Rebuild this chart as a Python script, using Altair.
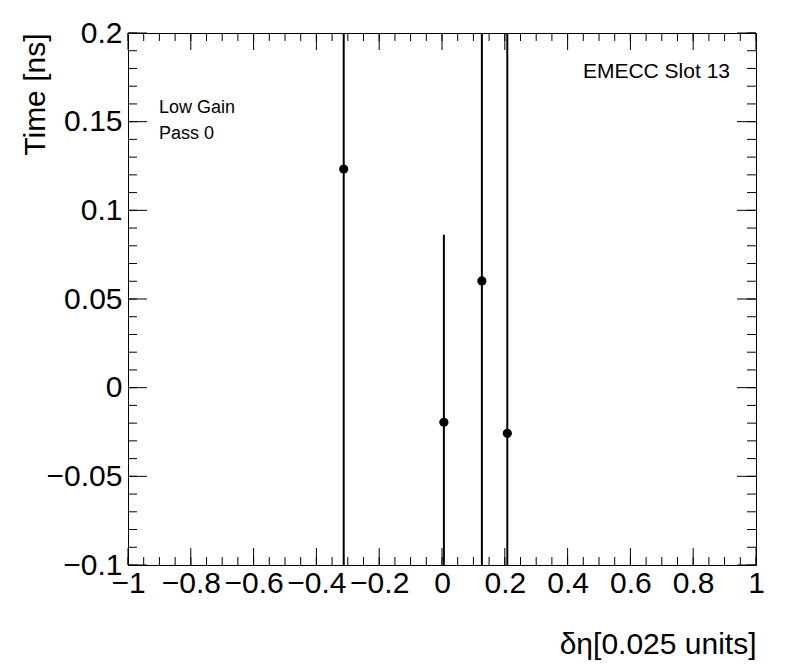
import altair as alt
import pandas as pd

# data
eta = [-0.313, 0.006, 0.127, 0.208]
time_ns = [0.1233, -0.0195, 0.0602, -0.0257]
time_err = [0.40, 0.1057, 0.40, 0.40]

x_major = [round(-1 + 0.2 * i, 4) for i in range(11)]
x_minor = [round(-1 + 0.05 * i, 4) for i in range(41)]
y_major = [round(-0.1 + 0.05 * i, 4) for i in range(7)]
y_minor = [round(-0.1 + 0.01 * i, 4) for i in range(31)]

W, H = 628, 532
FONT = "Liberation Sans"
FS = 30

df = pd.DataFrame({"x": eta, "y": time_ns, "e": time_err})
df["lo"] = df["y"] - df["e"]
df["hi"] = df["y"] + df["e"]

xs = alt.Scale(domain=[-1, 1], nice=False, zero=False)
ys = alt.Scale(domain=[-0.1, 0.2], nice=False, zero=False)

base = alt.Chart(df)

bars = base.mark_rule(color="black", strokeWidth=2, clip=True).encode(
    x=alt.X("x:Q", scale=xs, axis=alt.Axis(
        values=x_major, format="~g", ticks=False, domain=False, grid=False,
        labelFont=FONT, labelFontSize=FS, labelColor="black", labelPadding=3,
        labelFlush=False, labelExpr="replace(datum.label, '-', '\u2212')",
        title="\u03b4\u03b7[0.025 units]", titleFont=FONT, titleFontSize=FS,
        titleFontWeight="normal", titleColor="black", titleAnchor="end",
        titleAlign="right", titleX=W, titleY=88, titleBaseline="alphabetic")),
    y=alt.Y("lo:Q", scale=ys, axis=alt.Axis(
        values=y_major, format="~g", ticks=False, domain=False, grid=False,
        labelFont=FONT, labelFontSize=FS, labelColor="black", labelPadding=6,
        labelFlush=False, labelExpr="replace(datum.label, '-', '\u2212')",
        title="Time [ns]", titleFont=FONT, titleFontSize=FS,
        titleFontWeight="normal", titleColor="black", titleAngle=-90,
        titleAlign="right", titleBaseline="alphabetic", titleX=-84, titleY=0)),
    y2="hi:Q",
)

points = base.mark_point(filled=True, color="black", opacity=1, size=85, shape="circle").encode(
    x=alt.X("x:Q", scale=xs), y=alt.Y("y:Q", scale=ys))


def xticks(vals, length):
    d = pd.DataFrame({"v": vals})
    bot = alt.Chart(d).mark_rule(color="black", strokeWidth=1).encode(
        x=alt.X("v:Q", scale=xs), y=alt.value(H), y2=alt.value(H - length))
    top = alt.Chart(d).mark_rule(color="black", strokeWidth=1).encode(
        x=alt.X("v:Q", scale=xs), y=alt.value(0), y2=alt.value(length))
    return [bot, top]


def yticks(vals, length):
    d = pd.DataFrame({"v": vals})
    left = alt.Chart(d).mark_rule(color="black", strokeWidth=1).encode(
        y=alt.Y("v:Q", scale=ys), x=alt.value(0), x2=alt.value(length))
    right = alt.Chart(d).mark_rule(color="black", strokeWidth=1).encode(
        y=alt.Y("v:Q", scale=ys), x=alt.value(W), x2=alt.value(W - length))
    return [left, right]


ticks = xticks(x_major, 17) + xticks(x_minor, 8) + yticks(y_major, 19) + yticks(y_minor, 9)

t1 = alt.Chart(pd.DataFrame({"t": ["EMECC Slot 13"]})).mark_text(
    font=FONT, fontSize=21, color="black", align="right", baseline="alphabetic"
).encode(text="t:N", x=alt.value(602), y=alt.value(45))
t2 = alt.Chart(pd.DataFrame({"t": ["Low Gain"]})).mark_text(
    font=FONT, fontSize=18, color="black", align="left", baseline="alphabetic"
).encode(text="t:N", x=alt.value(31), y=alt.value(80))
t3 = alt.Chart(pd.DataFrame({"t": ["Pass 0"]})).mark_text(
    font=FONT, fontSize=18, color="black", align="left", baseline="alphabetic"
).encode(text="t:N", x=alt.value(31), y=alt.value(106))

chart = alt.layer(bars, points, *ticks, t1, t2, t3).properties(
    width=W, height=H,
    autosize=alt.AutoSizeParams(type="none"),
    padding={"left": 120, "top": 25, "right": 30, "bottom": 95},
    background="white",
).configure_view(stroke="black", strokeWidth=1)

chart.save("out.html", embed_options={"renderer": "svg", "actions": False})
